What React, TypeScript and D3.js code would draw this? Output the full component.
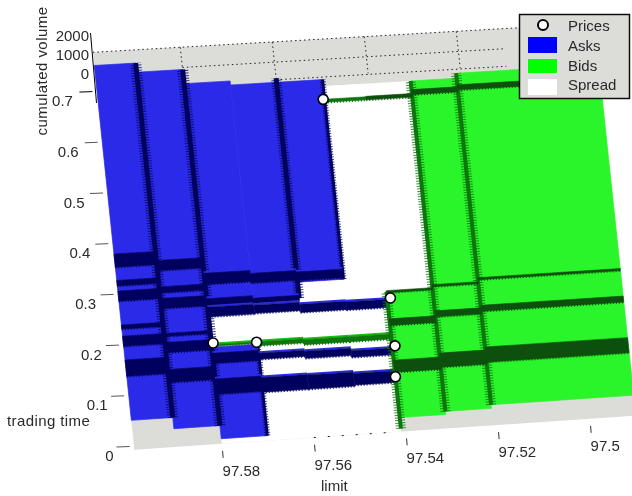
import React from 'react';
import * as d3 from 'd3';

type Span = [number, number];
type Wall = [number, number, number];

const timeTicks = [0, 0.1, 0.2, 0.3, 0.4, 0.5, 0.6, 0.7];
const limitTicks = [97.58, 97.56, 97.54, 97.52, 97.5];
const volumeTicks = [0, 1000, 2000];
const legendLabels = ['Prices', 'Asks', 'Bids', 'Spread'];

// price levels bounding each column of the book
const askLevels = [97.599, 97.59, 97.58, 97.57, 97.56, 97.55, 97.541];
const bidLevels = [97.541, 97.531, 97.521, 97.49];

// time spans where each ask column is filled
const askBodies: Span[][] = [
	[[0.052, 0.752]],
	[[0.03, 0.734]],
	[[0.004, 0.185], [0.267, 0.706]],
	[[0.27, 0.698]],
	[[0.302, 0.698]],
	[],
];
const askBands: Span[][] = [
	[[0.354, 0.38], [0.317, 0.328], [0.287, 0.307], [0.232, 0.24], [0.198, 0.218], [0.139, 0.171]],
	[[0.342, 0.362], [0.298, 0.31], [0.267, 0.287], [0.212, 0.218], [0.18, 0.2], [0.121, 0.147]],
	[[0.309, 0.331], [0.267, 0.281], [0.245, 0.264], [0.153, 0.173], [0.092, 0.122]],
	[[0.306, 0.325], [0.266, 0.276], [0.246, 0.262], [0.155, 0.167], [0.09, 0.119]],
	[[0.305, 0.322], [0.242, 0.258], [0.151, 0.165], [0.09, 0.118]],
	[[0.241, 0.257], [0.147, 0.16], [0.092, 0.115]],
];
const askWalls: Wall[] = [
	[97.59, 0.052, 0.752],
	[97.58, 0.03, 0.734],
	[97.57, 0.004, 0.185],
	[97.56, 0.27, 0.706],
	[97.55, 0.302, 0.698],
];

const bidBodies: Span[] = [[0.022, 0.272], [0.028, 0.685], [0.035, 0.695]];
const bidBands: Span[][] = [
	[[0.27, 0.274], [0.205, 0.218], [0.112, 0.136], [0.653, 0.66]],
	[[0.276, 0.28], [0.216, 0.228], [0.116, 0.144], [0.658, 0.668]],
	[[0.284, 0.288], [0.221, 0.233], [0.12, 0.15], [0.662, 0.672]],
];
const bidWalls: Wall[] = [
	[97.541, 0, 0.272],
	[97.531, 0.028, 0.685],
	[97.521, 0.035, 0.695],
];
// green spikes crossing the spread, one list per ask column index
const spreadBidLevels = [97.58, 97.57, 97.56, 97.55, 97.541];
const spreadBidBands: Span[][] = [
	[[0.187, 0.19]],
	[[0.182, 0.19]],
	[[0.178, 0.188]],
	[[0.178, 0.188]],
];
const spreadTop = [0.685, 0.685];
const floorTimes: Span = [-0.006, 0.778];
const floorLevels: Span = [97.599, 97.49];

const priceLimits = [97.5503, 97.5796, 97.5702, 97.5403, 97.5404, 97.541];
const priceTimes = [0.659, 0.193, 0.189, 0.259, 0.164, 0.103];

const gridLimits = [97.58, 97.56, 97.54, 97.52];
const gridTimes = [0.738, 0.703];

const BLUE = '#2b2be8';
const DARK_BLUE = '#05055e';
const GREEN = '#2af52a';
const DARK_GREEN = '#0a4f0a';
const WALL_GREEN = '#0b760b';
const FLOOR = '#dcdcd8';
const FONT = '"Liberation Sans", Arial, sans-serif';
const TEXT = '#2a2a2a';

const limitScale = d3.scaleLinear().domain([97.6, 97.5]).range([0, 460]);
const timeScale = d3.scaleLinear().domain([0, 0.7]).range([0, 354.9]);
const volumeScale = d3.scaleLinear().domain([0, 2000]).range([73, 35]);

// oblique view of the (limit, time) plane
function project(limit: number, time: number): [number, number] {
	const u = limitScale(limit);
	const v = timeScale(time);
	return [129.5 + u - v * 0.1045, 447 - u * 0.0678 + u * v * 2.57e-5 - v];
}

const line = d3.line<[number, number]>();

function cell(l0: number, l1: number, t0: number, t1: number) {
	return (
		line([project(l0, t0), project(l1, t0), project(l1, t1), project(l0, t1)]) + 'Z'
	);
}

function Band({ l0, l1, span, fill, edge }: { l0: number; l1: number; span: Span; fill: string; edge?: string }) {
	const d = cell(l0, l1, span[0], span[1]);
	return (
		<g>
			{edge && <path d={cell(l0, l1, span[1], span[1] + 0.004)} fill={edge} />}
			<path d={d} fill={fill} stroke={fill} strokeWidth={0.6} />
			<path
				d={line([project(l0, span[0]), project(l1, span[0])]) as string}
				stroke={fill}
				strokeWidth={2.6}
				strokeDasharray='1 2'
				fill='none'
			/>
		</g>
	);
}

function WallLine({ wall, color, core, teeth }: { wall: Wall; color: string; core: number; teeth: number }) {
	const d = line([project(wall[0], wall[1]), project(wall[0], wall[2])]) as string;
	return (
		<g fill='none' stroke={color}>
			<path d={d} strokeWidth={teeth} strokeDasharray='1 1.6' opacity={0.8} />
			<path d={d} strokeWidth={core} />
		</g>
	);
}

export default function App() {
	return (
		<svg
			width={632}
			height={496}
			style={{ position: 'absolute', left: 0, top: 0, background: '#fff' }}
			fontFamily={FONT}
			fontSize={15}
			fill={TEXT}>
			<defs>
				<filter id='soft' x='0' y='0' width='100%' height='100%'>
					<feGaussianBlur stdDeviation={0.45} />
				</filter>
			</defs>
			<g filter='url(#soft)'>
				<rect width={632} height={496} fill='#fff' />
				{/* floor */}
				<path d={cell(floorLevels[0], floorLevels[1], floorTimes[0], floorTimes[1])} fill={FLOOR} />
				<path d={cell(askLevels[2], bidLevels[0], floorTimes[0], spreadTop[0])} fill='#fff' />
				<path d={cell(97.55, bidLevels[1], 0.272, spreadTop[1])} fill='#fff' />

				{/* floor grid */}
				<g fill='none' stroke='#222' strokeWidth={1} strokeDasharray='1.5 3'>
					<path d={line([project(floorLevels[0], floorTimes[1]), project(floorLevels[1], floorTimes[1])]) as string} />
					{gridLimits.map((l) => (
						<path key={l} d={line([project(l, floorTimes[1]), project(l, 0.705)]) as string} />
					))}
					<path d={line([project(97.58, gridTimes[0]), project(97.51, gridTimes[0])]) as string} />
					<path d={line([project(97.56, gridTimes[1]), project(97.51, gridTimes[1])]) as string} />
					<path d={line([project(97.56, floorTimes[0]), project(97.542, floorTimes[0])]) as string} strokeDasharray='2 12' />
				</g>

				{/* asks */}
				{askBodies.map((spans, i) =>
					spans.map((s, j) => (
						<path key={`${i}-${j}`} d={cell(askLevels[i], askLevels[i + 1], s[0], s[1])} fill={BLUE} stroke={BLUE} strokeWidth={0.7} />
					))
				)}
				{/* bids */}
				{bidBodies.map((s, i) => (
					<path key={i} d={cell(bidLevels[i], bidLevels[i + 1], s[0], s[1])} fill={GREEN} stroke={GREEN} strokeWidth={0.7} />
				))}

				{askWalls.map((w, i) => (
					<WallLine key={i} wall={w} color={DARK_BLUE} core={i < 2 ? 5 : i === 3 ? 5 : 3} teeth={i < 2 ? 11 : i === 3 ? 10 : 6} />
				))}
				{askBands.map((spans, i) =>
					spans.map((s, j) => (
						<Band key={`${i}-${j}`} l0={askLevels[i]} l1={askLevels[i + 1]} span={s} fill={DARK_BLUE} edge={i > 1 ? BLUE : undefined} />
					))
				)}

				{spreadBidBands.map((spans, i) =>
					spans.map((s, j) => (
						<Band key={`${i}-${j}`} l0={spreadBidLevels[i]} l1={spreadBidLevels[i + 1]} span={s} fill={WALL_GREEN} edge='#12c212' />
					))
				)}
				<Band l0={97.55} l1={97.541} span={[0.653, 0.659]} fill={WALL_GREEN} />
				{bidWalls.map((w, i) => (
					<WallLine key={i} wall={w} color={WALL_GREEN} core={4} teeth={10} />
				))}
				{bidBands.map((spans, i) =>
					spans.map((s, j) => (
						<Band key={`${i}-${j}`} l0={bidLevels[i]} l1={bidLevels[i + 1]} span={s} fill={DARK_GREEN} />
					))
				)}

				{/* prices */}
				{priceLimits.map((l, i) => {
					const [cx, cy] = project(l, priceTimes[i]);
					return <circle key={i} cx={cx} cy={cy} r={5} fill='#fff' stroke='#000' strokeWidth={1.6} />;
				})}

				{/* time axis */}
				{timeTicks.map((t) => {
					const [x, y] = project(97.6, t);
					return (
						<g key={t}>
							<line x1={x - 13} x2={x} y1={y} y2={y - 0.5} stroke={t === 0.7 ? '#000' : '#555'} />
							<text x={x - 16 - 5 * t} y={y + 14} textAnchor='end'>
								{t}
							</text>
						</g>
					);
				})}
				<text x={7} y={426} letterSpacing={0.4}>
					trading time
				</text>

				{/* limit axis */}
				{limitTicks.map((l) => {
					const [x, y] = project(l, -0.02);
					return (
						<g key={l}>
							<line x1={x} x2={x + 0.6} y1={y} y2={y + 7} stroke='#333' />
							<text x={x} y={y + 25}>
								{l}
							</text>
						</g>
					);
				})}
				<text x={321} y={491}>
					limit
				</text>

				{/* volume axis */}
				<line x1={90.5} x2={96.5} y1={33} y2={103} stroke='#000' />
				{volumeTicks.map((v) => (
					<text key={v} x={89} y={volumeScale(v) + 5.5} textAnchor='end'>
						{v}
					</text>
				))}
				<text transform='translate(47,71) rotate(-90)' textAnchor='middle' letterSpacing={0.45}>
					cumulated volume
				</text>

				{/* legend */}
				<rect x={519.5} y={14.5} width={110} height={84} fill={FLOOR} stroke='#111' strokeWidth={1.5} />
				<circle cx={543} cy={25} r={5} fill='#fff' stroke='#000' strokeWidth={2} />
				<rect x={528} y={37} width={29} height={16} fill='#0000ff' />
				<rect x={528} y={59} width={29} height={14} fill='#00ff00' />
				<rect x={528} y={79} width={29} height={16} fill='#fff' />
				{legendLabels.map((label, i) => (
					<text key={label} x={568} y={31 + i * 19.8}>
						{label}
					</text>
				))}
			</g>
		</svg>
	);
}
